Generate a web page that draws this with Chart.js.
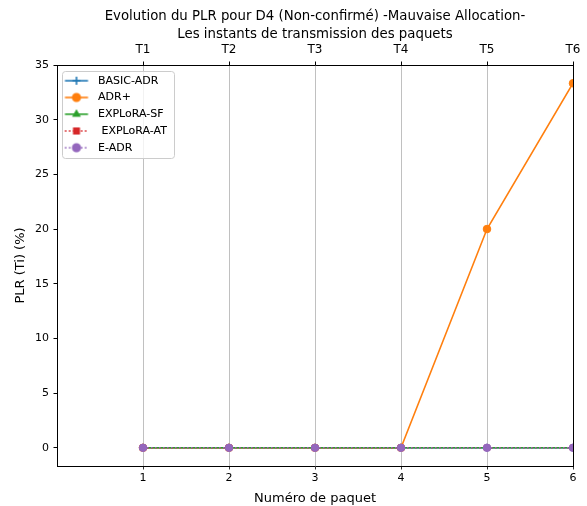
<!DOCTYPE html>
<html>
<head>
<meta charset="utf-8">
<script src="https://cdn.jsdelivr.net/npm/chart.js@4/dist/chart.umd.min.js"></script>
<style>
  html, body { margin: 0; padding: 0; background: #fff; }
</style>
</head>
<body>
<canvas id="plrChart" width="587" height="506"></canvas>
<script>
// Data
const packets = [1, 2, 3, 4, 5, 6];
const instants = ["T1", "T2", "T3", "T4", "T5", "T6"];
const basicAdr = [0, 0, 0, 0, 0, 0];
const adrPlus = [0, 0, 0, 0, 20, 33.33];
const exploraSf = [0, 0, 0, 0, 0, 0];
const exploraAt = [0, 0, 0, 0, 0, 0];
const eAdr = [0, 0, 0, 0, 0, 0];
const yTicks = [0, 5, 10, 15, 20, 25, 30, 35];

Chart.defaults.font.family = "'DejaVu Sans', sans-serif";
Chart.defaults.color = "#000";

function toPoints(values) {
  return values.map((v, i) => ({ x: packets[i], y: v }));
}

const series = [
  { label: "BASIC-ADR", data: basicAdr, color: "#1f77b4", marker: "cross", radius: 4, dash: [] },
  { label: "ADR+", data: adrPlus, color: "#ff7f0e", marker: "circle", radius: 3.8, dash: [] },
  { label: "EXPLoRA-SF", data: exploraSf, color: "#2ca02c", marker: "triangle", radius: 3.5, dash: [] },
  { label: " EXPLoRA-AT", data: exploraAt, color: "#d62728", marker: "rect", radius: 3.8, dash: [1.5, 2.5] },
  { label: "E-ADR", data: eAdr, color: "#9467bd", marker: "circle", radius: 3.8, dash: [1.5, 2.5] },
];

// small line+marker icons for the legend
function legendIcon(s) {
  const c = document.createElement("canvas");
  c.width = 32;
  c.height = 12;
  const g = c.getContext("2d");
  g.strokeStyle = s.color;
  g.fillStyle = s.color;
  g.lineWidth = 1.5;
  g.setLineDash(s.dash);
  g.beginPath();
  g.moveTo(4.5, 6);
  g.lineTo(27.5, 6);
  g.stroke();
  g.setLineDash([]);
  Chart.helpers.drawPoint(g, { pointStyle: s.marker, radius: s.radius, borderWidth: 1, rotation: 0 }, 16, 6);
  return c;
}

const datasets = series.map((s, i) => ({
  label: s.label,
  data: toPoints(s.data),
  borderColor: s.color,
  backgroundColor: s.color,
  borderWidth: 1.6,
  borderDash: s.dash,
  pointStyle: s.marker,
  pointRadius: s.radius,
  pointBorderWidth: 1,
  pointBackgroundColor: s.color,
  pointBorderColor: s.color,
  tension: 0,
  order: series.length - i,
}));

const legendFrame = {
  id: "legendFrame",
  afterLayout(chart) {
    const a = chart.chartArea;
    chart.legend.left = a.left - 2.25;
    chart.legend.top = a.top + 4.45;
  },
  afterDraw(chart) {
    const a = chart.chartArea;
    const ctx = chart.ctx;
    ctx.save();
    ctx.beginPath();
    ctx.roundRect(a.left + 5.5, a.top + 6.5, 112, 87, 3);
    ctx.fillStyle = "rgba(255,255,255,0.8)";
    ctx.fill();
    ctx.strokeStyle = "#cccccc";
    ctx.lineWidth = 1;
    ctx.stroke();
    ctx.restore();
    chart.legend.draw(a);
  },
};

const ctx = document.getElementById("plrChart").getContext("2d");
const plrChart = new Chart(ctx, {
  type: "line",
  data: { datasets: datasets },
  options: {
    responsive: false,
    animation: false,
    devicePixelRatio: 1,
    layout: { padding: 0 },
    plugins: {
      title: {
        display: true,
        fullSize: false,
        text: "Evolution du PLR pour D4 (Non-confirmé) -Mauvaise Allocation-",
        font: { size: 13.3, weight: "normal" },
        color: "#000",
        padding: { top: 9, bottom: 0 },
      },
      legend: {
        position: "chartArea",
        align: "start",
        labels: {
          usePointStyle: true,
          pointStyleWidth: 32,
          padding: 5.75,
          font: { size: 11 },
          color: "#000",
          generateLabels: (chart) =>
            chart.data.datasets.map((ds, i) => ({
              text: ds.label,
              pointStyle: legendIcon(series[i]),
              fillStyle: ds.backgroundColor,
              strokeStyle: ds.borderColor,
              lineWidth: 0,
              hidden: false,
              datasetIndex: i,
              fontColor: "#000",
            })),
        },
      },
      tooltip: { enabled: false },
    },
    scales: {
      x: {
        type: "linear",
        position: "bottom",
        min: 0,
        max: 6,
        afterBuildTicks: (axis) => { axis.ticks = packets.map((v) => ({ value: v })); },
        afterFit: (axis) => { axis.height = 40; },
        ticks: { font: { size: 11 }, padding: 1.9, color: "#000" },
        grid: { color: "#b0b0b0", lineWidth: 0.8, tickColor: "#000", tickLength: 3.5 },
        border: { color: "#000", width: 1 },
        title: { display: true, text: "Numéro de paquet", font: { size: 13 }, color: "#000", padding: { top: 2, bottom: 0 } },
      },
      x2: {
        type: "linear",
        position: "top",
        min: 0,
        max: 6,
        afterBuildTicks: (axis) => { axis.ticks = packets.map((v) => ({ value: v })); },
        afterFit: (axis) => { axis.height = 40.04; },
        ticks: {
          font: { size: 12 },
          padding: 4.3,
          color: "#000",
          callback: (v) => instants[packets.indexOf(v)],
        },
        grid: { drawOnChartArea: false, tickColor: "#000", tickLength: 3.5 },
        border: { color: "#000", width: 1 },
        title: { display: true, text: "Les instants de transmission des paquets", font: { size: 13.3 }, color: "#000", padding: { top: 1.5, bottom: 0 } },
      },
      y: {
        type: "linear",
        position: "left",
        min: -1.6667,
        max: 35,
        afterBuildTicks: (axis) => { axis.ticks = yTicks.map((v) => ({ value: v })); },
        afterFit: (axis) => { axis.width = 57; },
        ticks: { font: { size: 11 }, padding: 4.5, color: "#000" },
        grid: { drawOnChartArea: false, tickColor: "#000", tickLength: 3.5 },
        border: { color: "#000", width: 1 },
        title: { display: true, text: "PLR (Ti) (%)", font: { size: 13 }, color: "#000", padding: { top: 13, bottom: 0 } },
      },
      y2: {
        type: "linear",
        position: "right",
        min: -1.6667,
        max: 35,
        afterFit: (axis) => { axis.width = 14; },
        ticks: { display: false },
        grid: { drawOnChartArea: false, drawTicks: false },
        border: { color: "#000", width: 1 },
      },
    },
  },
  plugins: [legendFrame],
});
</script>
</body>
</html>
